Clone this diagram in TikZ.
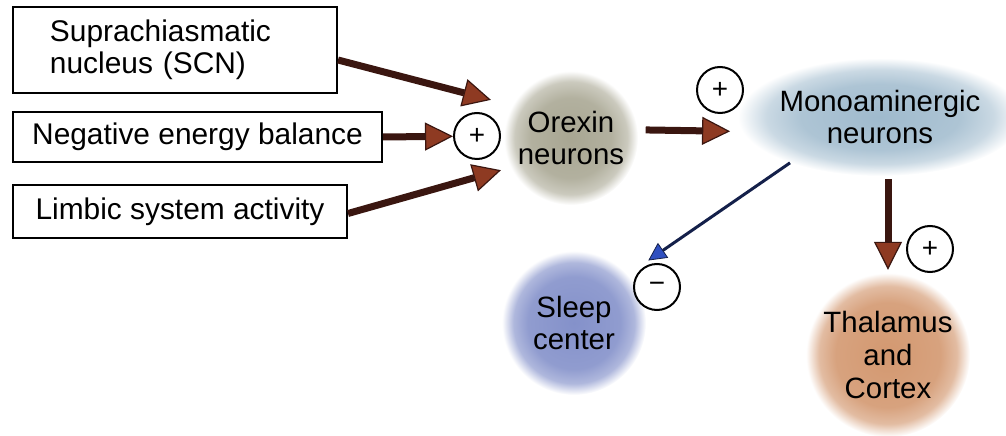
\documentclass[tikz,border=0pt]{standalone}
\usepackage{fontspec}
\setmainfont{Liberation Sans}
\usetikzlibrary{arrows.meta,shapes.geometric}
\definecolor{shaftc}{HTML}{3A1610}
\definecolor{headc}{HTML}{8E3A22}
\definecolor{orexc}{HTML}{A8A692}
\definecolor{monoc}{HTML}{9FBACD}
\definecolor{sleepc}{HTML}{8491CA}
\definecolor{thalc}{HTML}{D39870}
\definecolor{navyc}{HTML}{14204A}
\definecolor{blueheadc}{HTML}{2F4FC0}
\pgfdeclareradialshading{orexsh}{\pgfpoint{0bp}{0bp}}{color(0bp)=(orexc); color(15bp)=(orexc!88!white); color(21bp)=(orexc!60!white); color(25bp)=(white); color(50bp)=(white)}
\pgfdeclareradialshading{monosh}{\pgfpoint{0bp}{0bp}}{color(0bp)=(monoc); color(14bp)=(monoc!85!white); color(20bp)=(monoc!55!white); color(25bp)=(white); color(50bp)=(white)}
\pgfdeclareradialshading{sleepsh}{\pgfpoint{0bp}{0bp}}{color(0bp)=(sleepc); color(16bp)=(sleepc!90!white); color(21bp)=(sleepc!65!white); color(25bp)=(white); color(50bp)=(white)}
\pgfdeclareradialshading{thalsh}{\pgfpoint{0bp}{0bp}}{color(0bp)=(thalc); color(16bp)=(thalc!90!white); color(21bp)=(thalc!65!white); color(25bp)=(white); color(50bp)=(white)}
\tikzset{
  box/.style={draw=black, line width=2bp, font=\fontsize{30}{32}\selectfont, inner sep=0pt},
  blob/.style={circle, inner sep=0pt, font=\fontsize{29.5}{33}\selectfont, align=center},
  sign/.style={circle, draw=black, fill=white, line width=2bp, minimum size=46bp, inner sep=0pt, font=\fontsize{28}{28}\selectfont},
  bigarrow/.style={draw=shaftc, line width=7bp, -{Triangle[length=28bp,width=28bp,line width=1.2bp,fill=headc]}},
  bluearrow/.style={draw=navyc, line width=3bp, -{Triangle[length=18bp,width=18bp,line width=0.8bp,fill=blueheadc]}}
}
\begin{document}
\begin{tikzpicture}[x=1bp,y=-1bp]
\useasboundingbox (0,0) rectangle (1006,436);
% boxes
\node[box, minimum width=324bp, minimum height=86bp, text width=250bp, align=left] (scn) at (175,50) {Suprachiasmatic\\nucleus (SCN)};
\node[box, minimum width=369bp, minimum height=50bp] (neb) at (197.5,137) {Negative energy balance};
\node[box, minimum width=334bp, minimum height=53bp] (lim) at (180,211.5) {Limbic system activity};
% blobs
\node[blob, shading=orexsh, minimum size=134bp] (orex) at (571,138) {Orexin\\neurons};
\node[blob, ellipse, shading=monosh, minimum width=254bp, minimum height=118bp] (mono) at (880,117) {Monoaminergic\\neurons};
\node[blob, shading=sleepsh, minimum size=144bp] (sleep) at (574,323) {Sleep\\center};
\node[blob, shading=thalsh, minimum size=164bp] (thal) at (888,355) {Thalamus\\and\\Cortex};
% signs
\node[sign] (p1) at (477,136) {+};
\node[sign] (p2) at (720,90) {+};
\node[sign] (p3) at (930,249) {+};
\node[sign] (m1) at (657,287) {−};
% arrows
\draw[bigarrow, shorten >=22bp] ([yshift=-10bp]scn.east) -- (orex.151);
\draw[bigarrow] (neb.east) -- (p1);
\draw[bigarrow, shorten >=10bp] ([yshift=-2bp]lim.east) -- (orex.206);
\draw[bigarrow, shorten <=8bp, shorten >=12bp] (orex.7) -- (mono.186);
\draw[bigarrow, shorten <=3bp, shorten >=3bp] (mono.south -| thal.north) -- (thal.north);
\draw[bluearrow, shorten >=25bp] (mono.207) -- (sleep.42);
\end{tikzpicture}
\end{document}
